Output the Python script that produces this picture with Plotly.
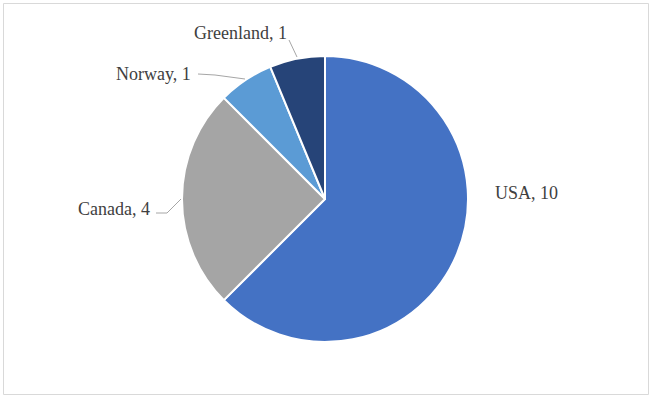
import plotly.graph_objects as go

countries = ["USA", "Canada", "Norway", "Greenland"]
counts = [10, 4, 1, 1]
colors = ["#4472C4", "#A5A5A5", "#5B9BD5", "#264478"]

W, H = 652, 402
cx, cy, r = 325, 199, 143

def px(x):
    return x / W

def py(y):
    return 1 - y / H

fig = go.Figure(go.Pie(
    labels=countries, values=counts, sort=False, direction="clockwise",
    rotation=0, textinfo="none", hoverinfo="label+value",
    marker=dict(colors=colors, line=dict(color="white", width=2)),
    domain=dict(x=[px(cx - r), px(cx + r)], y=[py(cy + r), py(cy - r)]),
    showlegend=False,
))

font = dict(family="Liberation Serif", size=18, color="#404040")
label_pos = {
    "USA": (493, 193, "left"),
    "Canada": (152, 209, "right"),
    "Norway": (193, 74, "right"),
    "Greenland": (240, 33, "center"),
}
anns = []
for name, val in zip(countries, counts):
    x, y, al = label_pos[name]
    anns.append(dict(x=px(x), y=py(y), xref="paper", yref="paper",
                     text=f"{name}, {val}", showarrow=False, font=font,
                     xanchor=al, yanchor="middle"))

line = dict(color="#A6A6A6", width=1)
shapes = [
    dict(type="rect", xref="paper", yref="paper", x0=px(3.5), x1=px(648.5),
         y0=py(394.5), y1=py(3.5), line=dict(color="#D9D9D9", width=1)),
    dict(type="path", xref="paper", yref="paper",
         path=f"M {px(156)} {py(213)} L {px(167)} {py(213)} L {px(181)} {py(199)}", line=line),
    dict(type="path", xref="paper", yref="paper",
         path=f"M {px(198)} {py(74)} L {px(215)} {py(75)} L {px(245)} {py(79)}", line=line),
    dict(type="path", xref="paper", yref="paper",
         path=f"M {px(289)} {py(40)} L {px(297)} {py(57)}", line=line),
]

fig.update_layout(width=W, height=H, margin=dict(l=0, r=0, t=0, b=0),
                  paper_bgcolor="white", plot_bgcolor="white",
                  annotations=anns, shapes=shapes)
fig.write_html("out.html")
